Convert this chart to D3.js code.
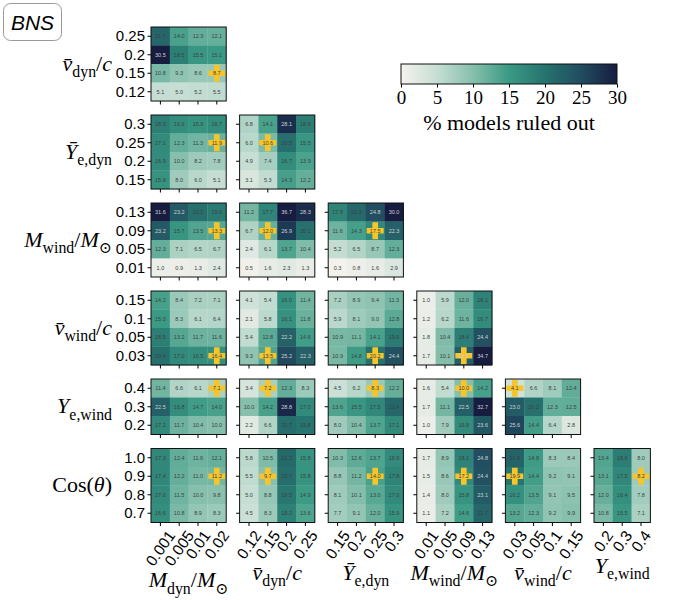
<!DOCTYPE html>
<html>
<head>
<meta charset="utf-8">
<script src="https://cdn.jsdelivr.net/npm/d3@7"></script>
<style>
  body { margin: 0; background: #fff; }
</style>
</head>
<body>
<div id="chart"></div>
<script>

// parameter grids (left to right on x, bottom to top on y)
var mDynVals   = ["0.001", "0.005", "0.01", "0.02"];
var vDynVals   = ["0.12", "0.15", "0.2", "0.25"];
var yeDynVals  = ["0.15", "0.2", "0.25", "0.3"];
var mWindVals  = ["0.01", "0.05", "0.09", "0.13"];
var vWindVals  = ["0.03", "0.05", "0.1", "0.15"];
var yeWindVals = ["0.2", "0.3", "0.4"];
var cosVals    = ["0.7", "0.8", "0.9", "1.0"];

// fiducial model (yellow plus), same order as the parameters
var fiducial = ["0.02", "0.15", "0.25", "0.09", "0.03", "0.4", "0.9"];

var colorTicks = [0, 5, 10, 15, 20, 25, 30];

// % of models ruled out. each grid: rows from top (largest y value) to bottom
var vDyn_mDyn = [[21.7, 14.0, 12.3, 12.1], [30.5, 18.5, 15.5, 15.1], [10.8, 9.3, 8.6, 8.7], [5.1, 5.0, 5.2, 5.5]];

var yeDyn_mDyn = [[18.3, 16.6, 15.9, 16.7], [17.1, 12.3, 11.3, 11.9], [16.9, 10.0, 8.2, 7.8], [15.9, 8.0, 6.0, 5.1]];
var yeDyn_vDyn = [[6.8, 14.1, 28.1, 18.6], [6.0, 10.6, 20.5, 15.5], [4.9, 7.4, 16.7, 13.9], [3.1, 5.3, 14.3, 12.2]];

var mWind_mDyn  = [[31.6, 23.2, 20.2, 19.0], [23.2, 15.7, 13.5, 13.3], [12.3, 7.1, 6.5, 6.7], [1.0, 0.9, 1.3, 2.4]];
var mWind_vDyn  = [[11.2, 17.7, 36.7, 28.3], [6.7, 12.0, 26.9, 20.1], [2.4, 6.1, 13.7, 10.4], [0.5, 1.6, 2.3, 1.3]];
var mWind_yeDyn = [[17.8, 21.3, 24.8, 30.0], [11.6, 14.3, 17.5, 22.3], [5.2, 6.5, 8.7, 12.3], [0.3, 0.8, 1.6, 2.9]];

var vWind_mDyn  = [[14.2, 8.4, 7.2, 7.1], [15.0, 8.3, 6.1, 6.4], [18.5, 13.2, 11.7, 11.6], [20.4, 17.0, 16.5, 16.4]];
var vWind_vDyn  = [[4.1, 5.4, 16.0, 11.4], [2.1, 5.8, 16.1, 11.8], [5.4, 12.8, 22.2, 14.6], [9.3, 13.5, 25.2, 22.3]];
var vWind_yeDyn = [[7.2, 8.9, 9.4, 11.3], [5.9, 8.1, 9.0, 12.8], [10.9, 11.1, 14.1, 19.0], [10.9, 14.8, 20.2, 24.4]];
var vWind_mWind = [[1.0, 5.9, 12.0, 18.1], [1.2, 6.2, 11.6, 16.7], [1.8, 10.4, 18.4, 24.4], [1.7, 10.1, 22.8, 34.7]];

var yeWind_mDyn  = [[11.4, 6.6, 6.1, 7.1], [22.5, 16.8, 14.7, 14.0], [17.2, 11.7, 10.4, 10.0]];
var yeWind_vDyn  = [[3.4, 7.2, 12.3, 8.3], [10.0, 14.2, 28.8, 17.0], [2.2, 6.6, 20.7, 19.8]];
var yeWind_yeDyn = [[4.5, 6.2, 8.3, 12.2], [13.6, 15.5, 17.5, 21.4], [8.0, 10.4, 13.7, 17.1]];
var yeWind_mWind = [[1.6, 5.4, 10.0, 14.2], [1.7, 11.1, 22.5, 32.7], [1.0, 7.9, 16.8, 23.6]];
var yeWind_vWind = [[4.1, 6.6, 8.1, 12.4], [23.0, 20.2, 12.3, 12.5], [25.6, 14.4, 6.4, 2.8]];

var cos_mDyn   = [[17.3, 12.4, 11.6, 12.1], [17.4, 12.2, 11.0, 11.2], [17.0, 11.5, 10.0, 9.8], [16.6, 10.8, 8.9, 8.3]];
var cos_vDyn   = [[5.8, 10.5, 21.2, 15.8], [5.5, 9.7, 20.7, 15.8], [5.0, 8.8, 19.5, 14.9], [4.5, 8.3, 18.2, 13.6]];
var cos_yeDyn  = [[10.3, 12.6, 13.7, 16.9], [8.8, 11.2, 14.0, 17.8], [8.1, 10.1, 13.0, 17.0], [7.7, 9.1, 12.0, 15.9]];
var cos_mWind  = [[1.7, 8.9, 18.1, 24.8], [1.5, 8.6, 17.2, 24.4], [1.4, 8.0, 15.8, 23.1], [1.1, 7.2, 14.6, 21.7]];
var cos_vWind  = [[21.9, 14.8, 8.3, 8.4], [19.9, 14.4, 9.2, 9.1], [16.2, 13.5, 9.1, 9.5], [13.2, 12.3, 9.2, 9.9]];
var cos_yeWind = [[13.4, 18.6, 8.0], [13.1, 17.5, 8.2], [12.0, 16.4, 7.8], [10.8, 15.5, 7.1]];

// axis labels as pieces: t = text, i = italic, s = subscript
var params = [
  { vals: mDynVals,   label: [{t: "M", i: 1}, {t: "dyn", s: 1}, {t: "/"}, {t: "M", i: 1}, {t: "\u2299", s: 1}] },
  { vals: vDynVals,   label: [{t: "v\u0304", i: 1}, {t: "dyn", s: 1}, {t: "/"}, {t: "c", i: 1}] },
  { vals: yeDynVals,  label: [{t: "Y\u0304", i: 1}, {t: "e,dyn", s: 1}] },
  { vals: mWindVals,  label: [{t: "M", i: 1}, {t: "wind", s: 1}, {t: "/"}, {t: "M", i: 1}, {t: "\u2299", s: 1}] },
  { vals: vWindVals,  label: [{t: "v\u0304", i: 1}, {t: "wind", s: 1}, {t: "/"}, {t: "c", i: 1}] },
  { vals: yeWindVals, label: [{t: "Y", i: 1}, {t: "e,wind", s: 1}] },
  { vals: cosVals,    label: [{t: "Cos("}, {t: "\u03b8", i: 1}, {t: ")"}] }
];

var grids = [
  [vDyn_mDyn],
  [yeDyn_mDyn, yeDyn_vDyn],
  [mWind_mDyn, mWind_vDyn, mWind_yeDyn],
  [vWind_mDyn, vWind_vDyn, vWind_yeDyn, vWind_mWind],
  [yeWind_mDyn, yeWind_vDyn, yeWind_yeDyn, yeWind_mWind, yeWind_vWind],
  [cos_mDyn, cos_vDyn, cos_yeDyn, cos_mWind, cos_vWind, cos_yeWind]
];

var W = 678, H = 600;
var left0 = 151, top0 = 27;
var cellW = 18.8, cellH = 18.5, gapX = 13.4, gapY = 14;
var serif = "'Liberation Serif', 'DejaVu Serif', serif";
var sans = "'Liberation Sans', Arial, sans-serif";
var rot = 55;

var svg = d3.select("#chart").append("svg")
    .attr("width", W)
    .attr("height", H);

var color = d3.scaleLinear()
    .domain(colorTicks)
    .range(["#f6f2ee", "#c6ded4", "#86bfac", "#3a9a84", "#26736f", "#214c60", "#161d41"])
    .clamp(true);

var fmt = d3.format(".1f");

// column left edges and row top edges
var colX = [], rowY = [];
var acc = left0;
for (var j = 0; j < 6; j++) { colX.push(acc); acc += params[j].vals.length * cellW + gapX; }
acc = top0;
for (var r = 0; r < 6; r++) { rowY.push(acc); acc += params[r + 1].vals.length * cellH + gapY; }

function addLabel(sel, parts, size) {
  parts.forEach(function(p, k) {
    var ts = sel.append("tspan").text(p.t);
    if (p.i) ts.style("font-style", "italic");
    if (p.s) ts.attr("font-size", size * 0.72).attr("dy", size * 0.28);
    else if (k > 0 && parts[k - 1].s) ts.attr("dy", -size * 0.28);
  });
}

var xLabelTop = [];

grids.forEach(function(row, r) {
  var yp = params[r + 1];
  var yDom = yp.vals.slice().reverse();
  var y0 = rowY[r];

  row.forEach(function(grid, c) {
    var xp = params[c];
    var x0 = colX[c];
    var x = d3.scaleBand().domain(xp.vals).range([x0, x0 + xp.vals.length * cellW]);
    var y = d3.scaleBand().domain(yDom).range([y0, y0 + yDom.length * cellH]);

    var cells = [];
    grid.forEach(function(vals, ri) {
      vals.forEach(function(v, ci) {
        cells.push({xv: xp.vals[ci], yv: yDom[ri], v: v});
      });
    });

    var g = svg.append("g");

    g.selectAll("rect.cell")
      .data(cells)
      .enter().append("rect")
        .attr("class", "cell")
        .attr("x", function(d) { return x(d.xv); })
        .attr("y", function(d) { return y(d.yv); })
        .attr("width", x.bandwidth() + 0.3)
        .attr("height", y.bandwidth() + 0.3)
        .attr("fill", function(d) { return color(d.v); });

    // fiducial marker
    g.append("path")
      .attr("d", d3.symbol().type(d3.symbolCross).size(160)())
      .attr("transform", "translate(" + (x(fiducial[c]) + x.bandwidth() / 2) + "," +
            (y(fiducial[r + 1]) + y.bandwidth() / 2) + ")")
      .attr("fill", "#f7c52a");

    g.selectAll("text.val")
      .data(cells)
      .enter().append("text")
        .attr("class", "val")
        .attr("x", function(d) { return x(d.xv) + x.bandwidth() / 2; })
        .attr("y", function(d) { return y(d.yv) + y.bandwidth() / 2; })
        .attr("text-anchor", "middle")
        .attr("dominant-baseline", "central")
        .attr("font-family", sans)
        .attr("font-size", 5.5)
        .attr("fill", function(d) { return d.v > 22 ? "#cfcfcf" : "#3f3f3f"; })
        .text(function(d) { return fmt(d.v); });

    g.append("rect")
      .attr("x", x0).attr("y", y0)
      .attr("width", xp.vals.length * cellW)
      .attr("height", yDom.length * cellH)
      .attr("fill", "none")
      .attr("stroke", "#111")
      .attr("stroke-width", 1);

    // y axis
    var ya = g.append("g")
      .attr("transform", "translate(" + x0 + ",0)")
      .call(d3.axisLeft(y).tickSize(3.5).tickSizeOuter(0).tickPadding(2.5));
    ya.select(".domain").remove();
    ya.selectAll("text")
      .attr("font-family", sans)
      .attr("font-size", 15)
      .attr("fill", "#000")
      .style("display", c == 0 ? null : "none");

    // x axis
    var xa = g.append("g")
      .attr("transform", "translate(0," + (y0 + yDom.length * cellH) + ")")
      .call(d3.axisBottom(x).tickSize(3.5).tickSizeOuter(0));
    xa.select(".domain").remove();

    if (r == grids.length - 1) {
      var maxH = 0, a = rot * Math.PI / 180;
      xa.selectAll("text")
        .attr("font-family", sans)
        .attr("font-size", 15.5)
        .attr("fill", "#000")
        .attr("y", 0)
        .attr("dy", "0.35em")
        .attr("text-anchor", "middle")
        .each(function() {
          var L = this.getComputedTextLength();
          var h = L * Math.sin(a) + 11.5 * Math.cos(a);
          maxH = Math.max(maxH, h);
          d3.select(this).attr("transform", "translate(0," + (6.5 + h / 2) + ") rotate(" + (-rot) + ")");
        });
      xLabelTop[c] = y0 + yDom.length * cellH + 6.5 + maxH;
    } else {
      xa.selectAll("text").remove();
    }
  });

  // row label
  var yl = svg.append("text")
    .attr("x", 112)
    .attr("y", y0 + yDom.length * cellH / 2)
    .attr("dy", "0.3em")
    .attr("text-anchor", "end")
    .attr("font-family", serif)
    .attr("font-size", 22);
  addLabel(yl, yp.label, 22);
});

// column labels along the bottom
for (var c = 0; c < 6; c++) {
  var xl = svg.append("text")
    .attr("x", colX[c] + params[c].vals.length * cellW / 2)
    .attr("y", xLabelTop[c] + 20)
    .attr("text-anchor", "middle")
    .attr("font-family", serif)
    .attr("font-size", 22);
  addLabel(xl, params[c].label, 22);
}

// colour bar
var cbX = d3.scaleLinear().domain([0, 30]).range([401, 617]);
var cbTop = 64, cbH = 20;

var grad = svg.append("defs").append("linearGradient")
    .attr("id", "cbar")
    .attr("x1", "0%").attr("x2", "100%");
d3.range(0, 30.01, 1).forEach(function(v) {
  grad.append("stop").attr("offset", (v / 30 * 100) + "%").attr("stop-color", color(v));
});

svg.append("rect")
  .attr("x", cbX(0)).attr("y", cbTop)
  .attr("width", cbX(30) - cbX(0)).attr("height", cbH)
  .attr("fill", "url(#cbar)")
  .attr("stroke", "#111")
  .attr("stroke-width", 1);

var cba = svg.append("g")
  .attr("transform", "translate(0," + (cbTop + cbH) + ")")
  .call(d3.axisBottom(cbX).tickValues(colorTicks).tickSize(3.5).tickSizeOuter(0));
cba.select(".domain").remove();
cba.selectAll("text")
  .attr("font-family", serif)
  .attr("font-size", 19)
  .attr("fill", "#000");

svg.append("text")
  .attr("x", (cbX(0) + cbX(30)) / 2)
  .attr("y", 130)
  .attr("text-anchor", "middle")
  .attr("font-family", serif)
  .attr("font-size", 22)
  .text("% models ruled out");

// BNS tag
svg.append("rect")
  .attr("x", 3.5).attr("y", 3.5)
  .attr("width", 58).attr("height", 37)
  .attr("rx", 7)
  .attr("fill", "#fff")
  .attr("stroke", "#999")
  .attr("stroke-width", 1);

svg.append("text")
  .attr("x", 32.5)
  .attr("y", 22)
  .attr("dy", "0.36em")
  .attr("text-anchor", "middle")
  .attr("font-family", sans)
  .attr("font-style", "italic")
  .attr("font-size", 21)
  .text("BNS");

</script>
</body>
</html>
